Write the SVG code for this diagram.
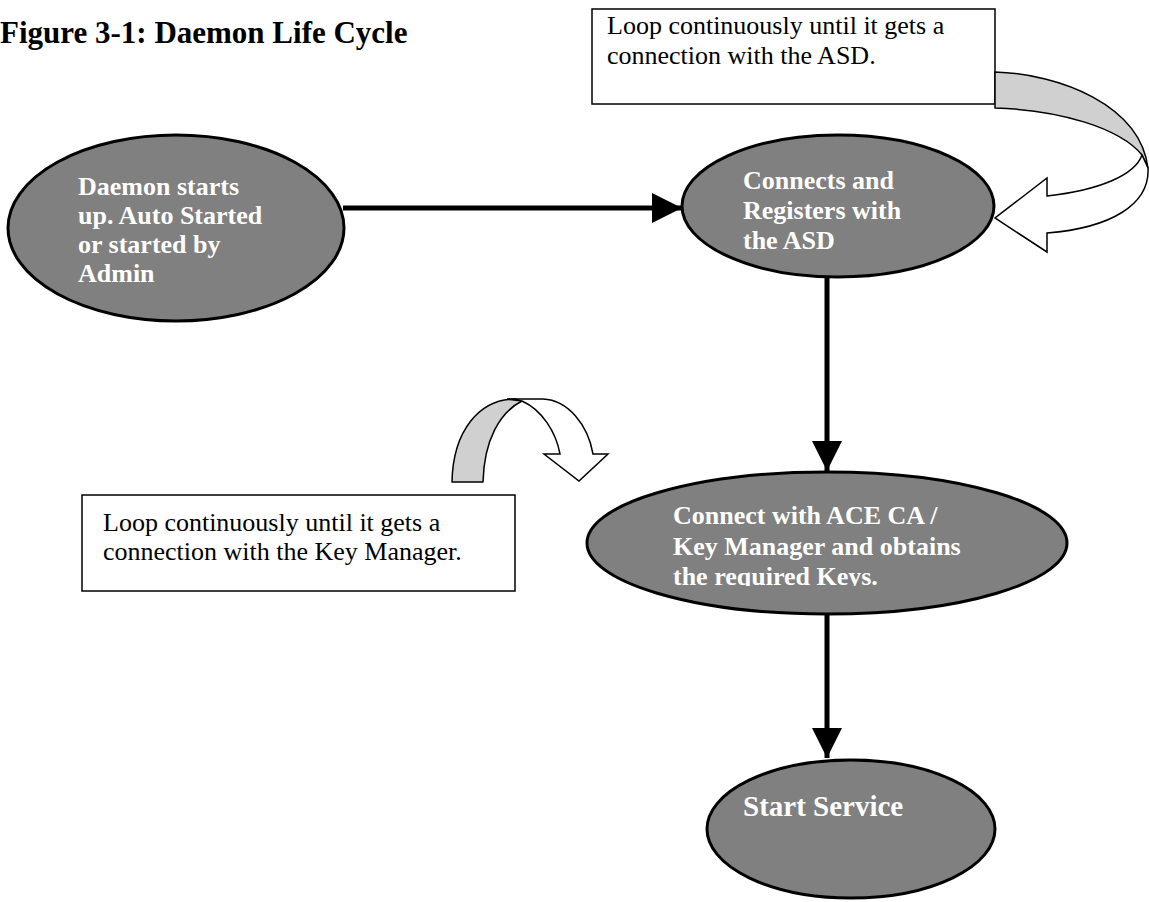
<svg xmlns="http://www.w3.org/2000/svg" width="1149" height="902" viewBox="0 0 1149 902">
<style>
.node{fill:#808080;stroke:#000;stroke-width:3}
.nt{font-family:"Liberation Serif","Times New Roman",serif;font-weight:bold;font-size:26px;fill:#fff}
.box{fill:#fff;stroke:#000;stroke-width:1.5}
.bt{font-family:"Liberation Serif","Times New Roman",serif;font-size:26px;fill:#000}
.conn{stroke:#000;stroke-width:5;fill:none}
.band{fill:#d0d0d0;stroke:#000;stroke-width:1.5;stroke-linejoin:round}
.front{fill:#fff;stroke:#000;stroke-width:1.5;stroke-linejoin:miter}
</style>
<defs>
<marker id="ah" viewBox="0 0 30 30" refX="30" refY="15" markerWidth="30" markerHeight="30" markerUnits="userSpaceOnUse" orient="auto">
<path d="M0,0 L30,15 L0,30 Z" fill="#000"/>
</marker>
<clipPath id="clip3"><rect x="580" y="460" width="500" height="126"/></clipPath>
</defs>
<rect width="1149" height="902" fill="#fff"/>
<text x="0" y="43" font-family="'Liberation Serif','Times New Roman',serif" font-weight="bold" font-size="31px" fill="#000">Figure 3-1: Daemon Life Cycle</text>

<g id="connectors">
<line class="conn" x1="343" y1="208" x2="682" y2="208" marker-end="url(#ah)"/>
<line class="conn" x1="827" y1="277" x2="827" y2="471" marker-end="url(#ah)"/>
<line class="conn" x1="827" y1="615" x2="827" y2="758" marker-end="url(#ah)"/>
</g>

<g id="note-asd">
<rect class="box" x="592" y="9" width="403" height="95"/>
<text class="bt" x="607" y="34">Loop continuously until it gets a</text>
<text class="bt" x="607" y="64">connection with the ASD.</text>
</g>
<g id="loop-asd">
<path class="band" d="M995,72 C1060,74 1140,105 1148,168 L1142,155 C1120,128 1060,110 995,108 Z"/>
<path class="front" d="M1148,168 C1150,205 1110,228 1047,233 L1047,252 L995,218 L1047,178 L1047,196 C1100,190 1135,175 1142,155 Z"/>
</g>

<g id="note-km">
<rect class="box" x="82" y="495" width="433" height="96"/>
<text class="bt" x="103" y="531">Loop continuously until it gets a</text>
<text class="bt" x="103" y="560">connection with the Key Manager.</text>
</g>
<g id="loop-km">
<path class="band" d="M452,482 L483,482 C484,440 500,412 522,401 L515,399 C480,399 453,430 452,482 Z"/>
<path class="front" d="M507,399 L543,399 C568,400 588,425 593,454 L608,454 L579,481 L544,454 L560,454 C556,432 542,410 522,401 Z"/>
</g>

<g id="daemon-start">
<ellipse class="node" cx="176" cy="228" rx="168" ry="93"/>
<text class="nt" x="78" y="195">Daemon starts</text>
<text class="nt" x="78" y="224">up. Auto Started</text>
<text class="nt" x="78" y="253">or started by</text>
<text class="nt" x="78" y="282">Admin</text>
</g>

<g id="register-asd">
<ellipse class="node" cx="838" cy="206" rx="156" ry="71"/>
<text class="nt" x="743" y="189">Connects and</text>
<text class="nt" x="743" y="219">Registers with</text>
<text class="nt" x="743" y="249">the ASD</text>
</g>

<g id="obtain-keys">
<ellipse class="node" cx="827" cy="543" rx="240" ry="71"/>
<g clip-path="url(#clip3)">
<text class="nt" x="673" y="524">Connect with ACE CA /</text>
<text class="nt" x="673" y="555">Key Manager and obtains</text>
<text class="nt" x="673" y="585">the required Keys.</text>
</g>
</g>

<g id="start-service">
<ellipse class="node" cx="851" cy="829" rx="144" ry="69"/>
<text class="nt" x="743" y="816" style="font-size:29px">Start Service</text>
</g>
</svg>
